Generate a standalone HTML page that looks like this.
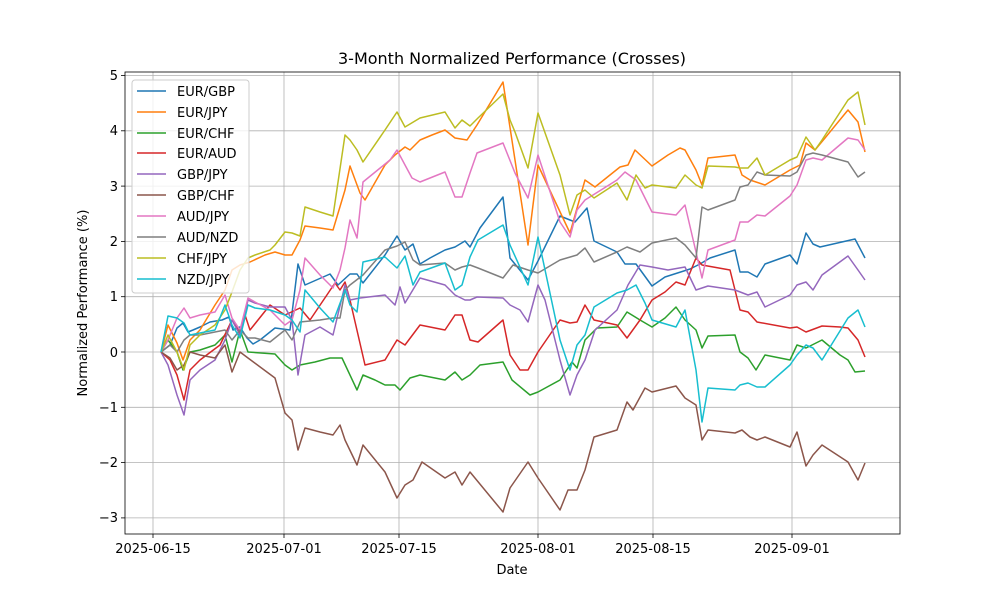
<!DOCTYPE html>
<html><head><meta charset="utf-8"><style>
body{margin:0;background:#fff}
svg text{font-family:"DejaVu Sans","Liberation Sans",sans-serif;fill:#000}
</style></head><body>
<svg width="1000" height="600" viewBox="0 0 1000 600" xmlns="http://www.w3.org/2000/svg">
<rect width="1000" height="600" fill="#fff"/>
<g stroke="#b0b0b0" stroke-width="0.8">
<line x1="153" y1="72" x2="153" y2="534"/><line x1="284" y1="72" x2="284" y2="534"/><line x1="399" y1="72" x2="399" y2="534"/><line x1="538" y1="72" x2="538" y2="534"/><line x1="653" y1="72" x2="653" y2="534"/><line x1="792" y1="72" x2="792" y2="534"/>
<line x1="125" y1="75.5" x2="900" y2="75.5"/><line x1="125" y1="130.8" x2="900" y2="130.8"/><line x1="125" y1="186.1" x2="900" y2="186.1"/><line x1="125" y1="241.4" x2="900" y2="241.4"/><line x1="125" y1="296.7" x2="900" y2="296.7"/><line x1="125" y1="352" x2="900" y2="352"/><line x1="125" y1="407.3" x2="900" y2="407.3"/><line x1="125" y1="462.6" x2="900" y2="462.6"/><line x1="125" y1="517.9" x2="900" y2="517.9"/>
</g>
<g fill="none" stroke-width="1.5" stroke-linejoin="round">
<polyline stroke="#1f77b4" points="161,352 170,345 177,328 183,323 188,332 193,330 200,327 210,322 222,320 229,317 233,330 240,327 247,338 253,344 260,340 275,328 290,330 298,264 305,285 330,274 338,285 350,274 357,274 363,283 385,255 397,236 405,250 413,244 420,264 430,258 445,250 455,247 465,241 470,247 480,228 503,197 510,258 528,280 538,261 560,216 575,222 587,208 594,241 617,252 625,264 636,264 652,286 665,277 690,269 700,264 710,258 735,250 740,272 748,272 757,277 765,264 790,255 797,264 806,233 813,244 820,247 855,239 865,258"/>
<polyline stroke="#ff7f0e" points="161,352 168,325 177,343 183,360 190,340 200,330 215,305 225,290 232,270 240,265 250,262 265,255 275,252 285,255 292,255 300,240 305,226 320,228 333,230 345,190 350,166 360,193 365,200 385,165 395,155 405,147 410,150 420,140 432,135 445,130 455,138 467,140 477,125 503,82 515,160 528,245 538,165 545,180 570,233 585,180 595,187 620,167 628,165 635,150 652,166 668,155 680,148 685,150 696,170 702,185 708,158 735,155 742,175 750,180 765,185 790,170 800,165 806,143 815,150 825,138 848,110 858,122 865,152"/>
<polyline stroke="#2ca02c" points="161,352 168,340 177,352 183,370 190,352 200,350 215,345 225,335 232,362 240,330 248,352 275,354 285,365 292,370 300,365 315,362 330,358 342,358 357,390 363,375 375,380 385,385 395,385 400,390 410,378 420,375 445,380 455,372 462,380 470,375 480,365 503,362 512,380 530,395 538,392 560,380 572,362 577,368 585,340 597,328 617,327 627,312 640,320 652,327 665,318 676,307 685,320 696,330 702,348 708,336 735,335 740,352 748,358 756,370 765,355 790,360 797,345 806,348 822,340 840,355 848,360 855,372 865,371"/>
<polyline stroke="#d62728" points="161,352 170,360 177,375 184,400 190,370 200,360 220,345 232,320 240,333 245,315 250,330 270,305 285,315 300,308 310,320 335,283 340,290 345,282 350,300 365,365 385,360 397,340 405,345 420,325 445,330 455,315 462,315 470,340 478,342 503,320 510,355 520,370 528,370 538,352 560,320 570,323 577,322 585,305 594,320 617,325 627,338 640,320 652,300 665,292 676,282 685,285 696,258 702,265 730,270 740,310 748,312 757,322 790,328 797,327 806,332 822,326 840,327 848,328 858,340 865,357"/>
<polyline stroke="#9467bd" points="161,352 168,365 177,395 184,415 190,380 200,370 215,360 225,340 232,320 240,335 248,300 255,303 270,307 285,307 292,320 298,375 305,335 320,327 333,335 345,285 350,300 360,298 385,295 395,305 400,287 405,303 420,278 445,285 455,295 465,300 470,300 477,297 503,298 510,305 520,310 528,322 538,285 545,300 555,340 560,360 570,395 577,375 585,360 595,330 617,310 628,285 640,265 652,267 668,270 685,267 696,290 702,288 708,286 735,290 748,295 757,292 765,307 790,295 797,285 806,282 813,290 822,275 848,256 858,270 865,280"/>
<polyline stroke="#8c564b" points="161,352 170,358 177,370 184,365 190,352 200,355 215,358 225,345 232,372 240,352 248,358 275,378 285,413 292,420 298,450 305,428 320,432 333,435 340,425 345,440 357,465 363,445 385,472 397,498 405,485 413,480 422,462 445,478 455,472 462,485 470,472 503,512 510,488 528,462 538,478 560,510 568,490 577,490 585,470 594,437 617,430 627,402 633,410 645,388 652,392 676,386 685,398 696,405 702,440 708,430 735,433 742,430 750,437 757,440 765,437 790,447 797,432 806,466 813,455 822,445 848,462 858,480 865,463"/>
<polyline stroke="#e377c2" points="161,352 168,340 177,318 184,308 190,318 200,315 215,312 225,295 232,318 240,330 248,298 255,302 270,310 285,325 292,320 300,290 305,258 320,275 333,288 340,270 345,248 350,220 357,238 363,182 390,160 397,150 405,165 412,178 420,182 445,172 455,197 462,197 470,173 477,153 503,143 515,173 528,198 538,155 560,222 570,237 577,210 585,200 617,180 625,172 636,180 652,212 676,215 685,205 696,252 702,278 708,250 735,240 740,222 748,222 757,215 765,216 790,196 797,185 806,160 813,158 822,160 848,138 858,140 865,150"/>
<polyline stroke="#7f7f7f" points="161,352 170,345 177,352 184,340 190,335 200,335 215,332 225,330 232,340 240,330 248,338 255,338 270,342 285,330 292,340 300,322 320,320 333,318 340,318 345,290 350,285 363,275 385,250 397,246 405,242 413,260 420,265 445,263 455,270 462,267 470,265 478,268 503,278 513,265 528,270 538,273 560,260 577,255 585,248 594,262 617,252 627,247 640,252 652,243 676,238 685,245 696,258 702,207 708,210 735,200 740,187 748,185 757,172 765,175 790,176 797,172 806,155 813,153 822,155 848,162 858,177 865,172"/>
<polyline stroke="#bcbd22" points="161,352 168,335 177,352 184,370 190,345 200,335 215,325 225,310 232,292 240,270 248,258 255,255 270,250 275,245 285,232 292,233 300,236 305,207 320,212 333,216 345,135 350,140 357,150 363,162 385,130 397,112 405,127 420,118 445,112 455,128 462,120 470,126 478,118 503,94 510,120 515,132 528,168 538,113 560,175 570,215 577,195 585,190 594,198 617,183 627,200 636,175 645,188 652,185 676,188 685,175 696,185 702,188 708,166 735,167 740,168 748,168 757,158 765,175 790,160 797,157 806,137 815,150 822,140 848,100 858,92 865,125"/>
<polyline stroke="#17becf" points="161,352 168,316 177,318 184,323 190,335 200,333 215,330 225,305 232,325 240,338 248,305 255,308 270,310 285,315 292,320 300,332 305,290 320,308 333,322 345,290 350,305 357,312 363,262 385,257 397,268 405,256 413,285 420,272 445,263 455,290 462,285 470,257 478,240 503,225 510,245 528,285 538,237 560,340 570,370 577,345 585,335 594,307 617,293 627,290 636,285 645,303 652,320 676,327 685,310 696,370 702,422 708,388 735,390 740,385 748,383 757,387 765,387 790,365 797,355 806,345 813,348 822,360 848,318 858,310 865,327"/>
</g>
<rect x="125" y="72" width="775" height="462" fill="none" stroke="#000" stroke-width="0.8"/>
<g stroke="#000" stroke-width="0.8">
<line x1="153" y1="534" x2="153" y2="538"/><line x1="284" y1="534" x2="284" y2="538"/><line x1="399" y1="534" x2="399" y2="538"/><line x1="538" y1="534" x2="538" y2="538"/><line x1="653" y1="534" x2="653" y2="538"/><line x1="792" y1="534" x2="792" y2="538"/>
<line x1="121" y1="75.5" x2="125" y2="75.5"/><line x1="121" y1="130.8" x2="125" y2="130.8"/><line x1="121" y1="186.1" x2="125" y2="186.1"/><line x1="121" y1="241.4" x2="125" y2="241.4"/><line x1="121" y1="296.7" x2="125" y2="296.7"/><line x1="121" y1="352" x2="125" y2="352"/><line x1="121" y1="407.3" x2="125" y2="407.3"/><line x1="121" y1="462.6" x2="125" y2="462.6"/><line x1="121" y1="517.9" x2="125" y2="517.9"/>
</g>
<g font-size="13" text-anchor="middle">
<text x="153" y="553">2025-06-15</text><text x="284" y="553">2025-07-01</text><text x="399" y="553">2025-07-15</text><text x="538" y="553">2025-08-01</text><text x="653" y="553">2025-08-15</text><text x="792" y="553">2025-09-01</text>
</g>
<g font-size="13" text-anchor="end">
<text x="118" y="80">5</text><text x="118" y="135">4</text><text x="118" y="191">3</text><text x="118" y="246">2</text><text x="118" y="301">1</text><text x="118" y="357">0</text><text x="118" y="412">−1</text><text x="118" y="467">−2</text><text x="118" y="522">−3</text>
</g>
<text x="512" y="574" font-size="13" text-anchor="middle">Date</text>
<text transform="translate(87,303) rotate(-90)" font-size="13" text-anchor="middle">Normalized Performance (%)</text>
<text x="512" y="64" font-size="16" text-anchor="middle">3-Month Normalized Performance (Crosses)</text>
<rect x="132" y="80" width="117" height="213" rx="3" fill="#fff" fill-opacity="0.8" stroke="#ccc" stroke-width="1"/>
<g stroke-width="1.5">
<line x1="137" y1="91" x2="166" y2="91" stroke="#1f77b4"/>
<line x1="137" y1="112" x2="166" y2="112" stroke="#ff7f0e"/>
<line x1="137" y1="133" x2="166" y2="133" stroke="#2ca02c"/>
<line x1="137" y1="153" x2="166" y2="153" stroke="#d62728"/>
<line x1="137" y1="174" x2="166" y2="174" stroke="#9467bd"/>
<line x1="137" y1="195" x2="166" y2="195" stroke="#8c564b"/>
<line x1="137" y1="216" x2="166" y2="216" stroke="#e377c2"/>
<line x1="137" y1="237" x2="166" y2="237" stroke="#7f7f7f"/>
<line x1="137" y1="258" x2="166" y2="258" stroke="#bcbd22"/>
<line x1="137" y1="279" x2="166" y2="279" stroke="#17becf"/>
</g>
<g font-size="13">
<text x="177" y="96">EUR/GBP</text><text x="177" y="117">EUR/JPY</text><text x="177" y="138">EUR/CHF</text><text x="177" y="158">EUR/AUD</text><text x="177" y="179">GBP/JPY</text><text x="177" y="200">GBP/CHF</text><text x="177" y="221">AUD/JPY</text><text x="177" y="242">AUD/NZD</text><text x="177" y="263">CHF/JPY</text><text x="177" y="284">NZD/JPY</text>
</g>
</svg>
</body></html>
